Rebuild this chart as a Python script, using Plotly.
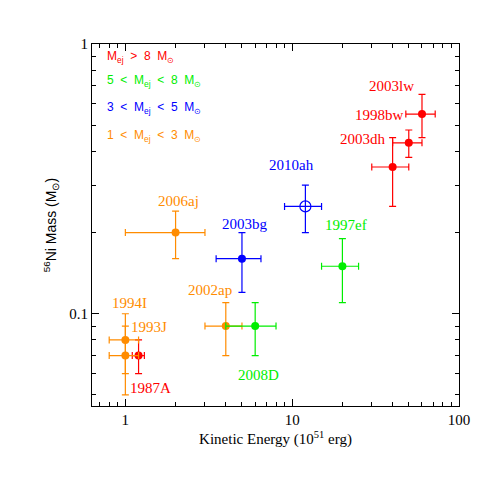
import plotly.graph_objects as go
import numpy as np

# ---- data ----
names   = ["1987A", "1993J", "1994I", "2002ap", "2006aj", "2008D", "1997ef",
           "2003bg", "2010ah", "2003dh", "1998bw", "2003lw"]
energy  = [1.2, 1.0, 1.0, 4.0, 2.0, 6.0, 20.0, 5.0, 12.0, 40.0, 50.0, 60.0]
e_err   = [0.1, 0.2, 0.2, 1.0, 1.0, 2.0, 5.0, 1.5, 3.0, 10.0, 10.0, 12.0]
ni_mass = [0.07, 0.08, 0.07, 0.09, 0.20, 0.09, 0.15, 0.16, 0.25, 0.35, 0.43, 0.55]
ni_err  = [0.01, 0.02, 0.02, 0.02, 0.04, 0.02, 0.04, 0.04, 0.05, 0.10, 0.05, 0.10]
group   = ["gt8", "1to3", "1to3", "1to3", "1to3", "5to8", "5to8", "3to5", "3to5", "gt8", "gt8", "gt8"]
open_marker = ["2010ah"]

group_colors = {"gt8": "#ff0000", "5to8": "#00ee00", "3to5": "#0000ff", "1to3": "#ff8c00"}
legend_order = ["gt8", "5to8", "3to5", "1to3"]
sp = "\u00a0\u00a0"
legend_text = {
    "gt8":  f"M<sub>ej</sub>{sp}>{sp}8{sp}M<sub>\u2299</sub>",
    "5to8": f"5{sp}<{sp}M<sub>ej</sub>{sp}<{sp}8{sp}M<sub>\u2299</sub>",
    "3to5": f"3{sp}<{sp}M<sub>ej</sub>{sp}<{sp}5{sp}M<sub>\u2299</sub>",
    "1to3": f"1{sp}<{sp}M<sub>ej</sub>{sp}<{sp}3{sp}M<sub>\u2299</sub>",
}
# label offsets in pixels (dx, dy; dy positive = up)
label_shift = {
    "1987A": (12, -32), "1993J": (24, 13), "1994I": (4, 53), "2002ap": (-16, 36),
    "2006aj": (3, 32), "2008D": (3, -49), "1997ef": (4, 41), "2003bg": (3, 35),
    "2010ah": (-14, 41), "2003dh": (-30, 28), "1998bw": (-29, 28), "2003lw": (-30, 28),
}

fig = go.Figure()
for i, n in enumerate(names):
    c = group_colors[group[i]]
    is_open = n in open_marker
    fig.add_trace(go.Scatter(
        x=[energy[i]], y=[ni_mass[i]], mode="markers",
        marker=dict(size=11 if is_open else 8,
                    color=c,
                    symbol="circle-open" if is_open else "circle",
                    line=dict(color=c, width=1.2 if is_open else 0)),
        error_x=dict(type="data", array=[e_err[i]], color=c, thickness=1.2, width=3.5),
        error_y=dict(type="data", array=[ni_err[i]], color=c, thickness=1.2, width=3.5),
        showlegend=False, hoverinfo="skip"))

annotations = []
for i, n in enumerate(names):
    dx, dy = label_shift[n]
    annotations.append(dict(
        x=np.log10(energy[i]), y=np.log10(ni_mass[i]), xref="x", yref="y",
        text=n, showarrow=False, xshift=dx, yshift=dy,
        font=dict(family="Liberation Serif", size=15, color=group_colors[group[i]])))

leg_y = [0.965, 0.898, 0.822, 0.746]
for k, g in enumerate(legend_order):
    annotations.append(dict(
        x=0.036, y=leg_y[k], xref="paper", yref="paper", xanchor="left", yanchor="middle",
        text=legend_text[g], showarrow=False,
        font=dict(family="Liberation Sans", size=12, color=group_colors[g])))

# y-axis title as rotated annotation
annotations.append(dict(
    x=-0.111, y=0.5, xref="paper", yref="paper", xanchor="center", yanchor="middle",
    text="<sup>56</sup>Ni Mass (M<sub>\u2299</sub>)", textangle=-90, showarrow=False,
    font=dict(family="Liberation Sans", size=14, color="black")))

fig.update_layout(
    width=501, height=501,
    margin=dict(l=84, r=50, t=36, b=103),
    plot_bgcolor="white", paper_bgcolor="white",
    annotations=annotations,
    xaxis=dict(type="log", range=[-0.2, 2], tickvals=[1, 10, 100], ticktext=["1", "10", "100"],
               ticks="inside", ticklen=7, tickwidth=1, tickcolor="black",
               minor=dict(ticks="inside", ticklen=4, tickcolor="black", dtick="D1", showgrid=False),
               showline=True, linecolor="black", linewidth=1, mirror="ticks",
               showgrid=False, zeroline=False, automargin=False,
               tickfont=dict(family="Liberation Serif", size=15, color="black"),
               title=dict(text="Kinetic Energy (10<sup>51</sup> erg)",
                          font=dict(family="Liberation Serif", size=15, color="black"), standoff=6)),
    yaxis=dict(type="log", range=[-1.342, 0], tickvals=[0.1, 1], ticktext=["0.1", "1"],
               ticks="inside", ticklen=7, tickwidth=1, tickcolor="black",
               minor=dict(ticks="inside", ticklen=4, tickcolor="black", dtick="D1", showgrid=False),
               showline=True, linecolor="black", linewidth=1, mirror="ticks",
               showgrid=False, zeroline=False, automargin=False,
               tickfont=dict(family="Liberation Serif", size=15, color="black")),
)
fig.write_html("out.html")
